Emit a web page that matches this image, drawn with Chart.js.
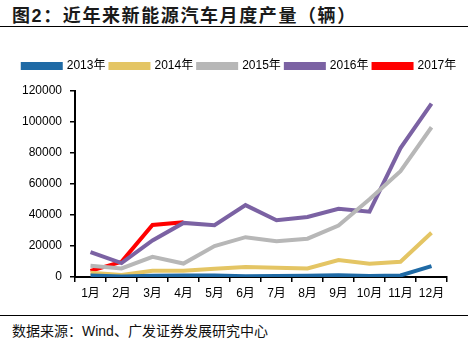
<!DOCTYPE html>
<html>
<head>
<meta charset="utf-8">
<script src="https://cdn.jsdelivr.net/npm/chart.js@4.4.0/dist/chart.umd.min.js"></script>
<style>
  body { margin: 0; width: 472px; height: 341px; background: #fff; position: relative; overflow: hidden;
         font-family: "Liberation Sans", "Noto Sans CJK SC", sans-serif; }
  #title { position: absolute; left: 12px; top: 1px; font-size: 18px; letter-spacing: 1.6px; font-weight: bold; color: #1a1a1a; white-space: nowrap; }
  .rule { position: absolute; left: 0; width: 468px; height: 0; border-top: 1.5px solid #000; }
  #footer { position: absolute; left: 12px; top: 320px; font-size: 14px; color: #111; white-space: nowrap; }
  #wrap { position: absolute; left: 0; top: 40px; width: 472px; height: 270px; }
</style>
</head>
<body>
<div id="title">图2：近年来新能源汽车月度产量（辆）</div>
<div class="rule" style="top:26px"></div>
<div id="wrap"><canvas id="prodChart"></canvas></div>
<div class="rule" style="top:315px"></div>
<div id="footer">数据来源：Wind、广发证券发展研究中心</div>

<script>
// Monthly NEV production, by year
const months = ['1月', '2月', '3月', '4月', '5月', '6月', '7月', '8月', '9月', '10月', '11月', '12月'];
const y2013 = [1000, 300, 800, 900, 900, 500, 700, 800, 1200, 600, 1000, 7000];
const y2014 = [2700, 1300, 4000, 4000, 5300, 6400, 6000, 5500, 10900, 8500, 9800, 28500];
const y2015 = [7200, 5500, 13000, 8700, 20000, 25700, 23000, 24700, 33200, 50200, 68300, 96600];
const y2016 = [16000, 9000, 23600, 34900, 33400, 46400, 36600, 38700, 44000, 42100, 83200, 111900];
const y2017 = [4000, 9800, 33600, 35300];
const yTicks = [0, 20000, 40000, 60000, 80000, 100000, 120000];

const seriesNames = ['2013年', '2014年', '2015年', '2016年', '2017年'];
const seriesColors = ['#1f6aa5', '#e4c564', '#b7b7b7', '#7b62a3', '#ff0000'];
const seriesData = [y2013, y2014, y2015, y2016, y2017];

const datasets = seriesData.map((data, i) => ({
    label: seriesNames[i],
    data: data,
    borderColor: seriesColors[i],
    backgroundColor: seriesColors[i],
    borderWidth: 4,
    pointRadius: 0,
    tension: 0
}));

const cjkFont = '"Liberation Sans", "Noto Sans CJK SC", sans-serif';

// extra space under the legend, and nudge it right
const legendGap = {
    id: 'legendGap',
    beforeInit(chart) {
        const fit = chart.legend.fit;
        chart.legend.fit = function () {
            fit.bind(chart.legend)();
            this.height += 9;
        };
    },
    afterLayout(chart) {
        chart.legend.left += 16;
        chart.legend.right += 16;
    }
};

new Chart(document.getElementById('prodChart'), {
    type: 'line',
    data: { labels: months, datasets: datasets },
    plugins: [legendGap],
    options: {
        responsive: true,
        maintainAspectRatio: false,
        animation: false,
        layout: { padding: { left: 0, right: 25, top: 15, bottom: 0 } },
        plugins: {
            tooltip: { enabled: false },
            legend: {
                position: 'top',
                labels: {
                    boxWidth: 38,
                    boxHeight: 4,
                    padding: 5,
                    color: '#000',
                    font: { size: 12, family: cjkFont }
                }
            }
        },
        scales: {
            x: {
                offset: true,
                grid: { offset: true, drawOnChartArea: false, drawTicks: true, tickLength: 5, color: '#000', lineWidth: 1.5 },
                border: { color: '#000', width: 2 },
                ticks: { color: '#000', padding: 4, maxRotation: 0, autoSkip: false, font: { size: 12, family: cjkFont } },
                afterFit: s => { s.height = 33; }
            },
            y: {
                min: 0,
                max: 120000,
                afterBuildTicks: s => { s.ticks = yTicks.map(v => ({ value: v })); },
                grid: { drawOnChartArea: false, drawTicks: true, tickLength: 5, color: '#000', lineWidth: 1.5 },
                border: { color: '#000', width: 2 },
                ticks: { color: '#000', padding: 8, font: { size: 12, family: cjkFont }, callback: v => String(v) },
                afterFit: s => { s.width = 75; }
            }
        }
    }
});
</script>
</body>
</html>
